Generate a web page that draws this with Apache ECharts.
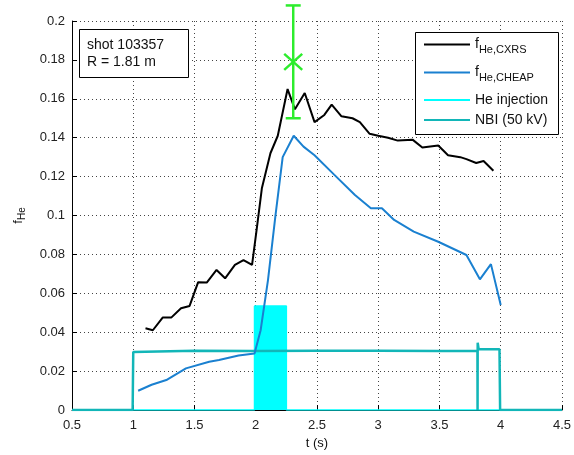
<!DOCTYPE html>
<html><head><meta charset="utf-8">
<script src="https://cdn.jsdelivr.net/npm/echarts@6/dist/echarts.min.js"></script>
<style>html,body{margin:0;padding:0;background:#fff}#c{width:574px;height:455px}</style>
</head><body><div id="c"></div>
<script>
const cxrsT = [1.10,1.16,1.24,1.31,1.39,1.46,1.53,1.60,1.68,1.75,1.83,1.90,1.97,2.01,2.05,2.12,2.18,2.26,2.32,2.40,2.48,2.56,2.62,2.70,2.79,2.85,2.93,3.00,3.08,3.16,3.28,3.36,3.49,3.57,3.67,3.72,3.80,3.86,3.94];
const cxrsV = [0.042,0.041,0.0475,0.0475,0.0523,0.0535,0.0657,0.0655,0.072,0.0677,0.0746,0.0771,0.0746,0.094,0.114,0.132,0.141,0.165,0.1546,0.163,0.148,0.1517,0.157,0.151,0.150,0.148,0.142,0.141,0.140,0.1385,0.139,0.135,0.136,0.131,0.130,0.129,0.127,0.128,0.123];
const cheapT = [1.04,1.15,1.27,1.43,1.62,1.70,1.86,1.99,2.04,2.10,2.16,2.22,2.31,2.39,2.48,2.64,2.81,2.94,3.03,3.13,3.29,3.49,3.72,3.83,3.92,4.00];
const cheapV = [0.0099,0.013,0.0154,0.0214,0.0248,0.0257,0.0280,0.029,0.041,0.0668,0.0994,0.130,0.141,0.1354,0.131,0.121,0.1105,0.1037,0.1037,0.0977,0.0917,0.0865,0.0797,0.0672,0.075,0.054];
const heT = [0.5,1.99,1.99,2.25,2.25,4.5];
const heV = [0,0,0.0535,0.0535,0,0];
const nbiT = [0.5,0.995,1.0,1.5,2.0,2.5,3.0,3.5,3.81,3.811,3.812,3.82,3.99,3.995,4.5];
const nbiV = [0,0,0.0298,0.0304,0.0303,0.0304,0.0304,0.0303,0.0303,0,0.0346,0.0312,0.0312,0,0];
const xrayPoint = [2.306, 0.179, 0.150, 0.208]; // t, value, low, high
const seriesNames = ['fHe,CXRS','fHe,CHEAP','He injection','NBI (50 kV)'];
const annotation = ['shot 103357','R = 1.81 m'];

const pair = (T,V)=>T.map((t,i)=>[t,V[i]]);
const FONT = 'Liberation Sans, Arial, Helvetica, sans-serif';
const chart = echarts.init(document.getElementById('c'));
const legendTops = [29, 57, 88, 108];
const rich = {f:{fontSize:14,fontFamily:FONT,color:'#111',lineHeight:16},
              s:{fontSize:11,fontFamily:FONT,color:'#111',padding:[10,0,0,0],lineHeight:16}};
chart.setOption({
  animation:false,
  grid:{left:72,right:8,top:21,bottom:45},
  xAxis:{type:'value',min:0.5,max:4.5,interval:0.5,
    name:'t (s)',nameLocation:'middle',nameGap:24,
    nameTextStyle:{fontFamily:FONT,fontSize:13,color:'#111'},
    axisLine:{lineStyle:{color:'#000',width:1}},
    axisTick:{inside:true,length:5,lineStyle:{color:'#000'}},
    axisLabel:{fontFamily:FONT,fontSize:13,color:'#222',margin:9},
    splitLine:{show:true,lineStyle:{color:'#444',type:[1,3],width:1}}},
  yAxis:{type:'value',min:0,max:0.2,interval:0.02,
    name:'{f|f}{s|He}',nameLocation:'middle',nameGap:45,nameRotate:90,
    nameTextStyle:{rich:{f:{fontSize:13,fontFamily:FONT,color:'#111'},s:{fontSize:10,fontFamily:FONT,color:'#111',padding:[8,0,0,0]}}},
    axisLine:{lineStyle:{color:'#000',width:1}},
    axisTick:{inside:true,length:5,lineStyle:{color:'#000'}},
    axisLabel:{fontFamily:FONT,fontSize:13,color:'#222',margin:7},
    splitLine:{show:true,lineStyle:{color:'#444',type:[1,3],width:1}}},
  legend: seriesNames.map((n,i)=>({
    data:[n], left:419, top:legendTops[i], icon:'rect', itemWidth:46, itemHeight:2, z:6,
    textStyle:{fontFamily:FONT,fontSize:14,color:'#111',rich:rich},
    formatter: (name)=> name.startsWith('fHe') ? '{f|f}{s|'+name.slice(1)+'}' : name
  })),
  graphic:[
    {type:'rect',shape:{x:415.5,y:32.5,width:143,height:102},style:{fill:'#fff',stroke:'#000',lineWidth:1},z:5},
    {type:'rect',shape:{x:79.5,y:29.5,width:109,height:48},style:{fill:'#fff',stroke:'#000',lineWidth:1},z:5},
    {type:'text',x:87,y:37,style:{text:annotation.join('\n'),font:'14px '+FONT,fill:'#111',lineHeight:17},z:6}
  ],
  series:[
    {name:seriesNames[2],type:'line',data:pair(heT,heV),showSymbol:false,symbol:'none',color:'#00ffff',
     lineStyle:{width:1.5,color:'#00ffff'},areaStyle:{color:'#00ffff',opacity:1},z:1},
    {name:seriesNames[3],type:'line',data:pair(nbiT,nbiV),showSymbol:false,symbol:'none',color:'#12b6b8',
     lineStyle:{width:2.5,color:'#12b6b8'},z:2},
    {name:seriesNames[1],type:'line',data:pair(cheapT,cheapV),showSymbol:false,symbol:'none',color:'#1a80d0',
     lineStyle:{width:2,color:'#1a80d0'},z:3},
    {name:seriesNames[0],type:'line',data:pair(cxrsT,cxrsV),showSymbol:false,symbol:'none',color:'#000',
     lineStyle:{width:2,color:'#000'},z:4},
    {type:'custom',clip:false,z:5,data:[xrayPoint],
     renderItem:(params,api)=>{
       const c=api.coord([api.value(0),api.value(1)]);
       const lo=api.coord([api.value(0),api.value(2)]);
       const hi=api.coord([api.value(0),api.value(3)]);
       const st={stroke:'#2ded2d',lineWidth:2.5};
       const cw=7.5, mx=9, my=8;
       return {type:'group',children:[
         {type:'line',shape:{x1:c[0],y1:lo[1],x2:c[0],y2:hi[1]},style:st},
         {type:'line',shape:{x1:c[0]-cw,y1:lo[1],x2:c[0]+cw,y2:lo[1]},style:st},
         {type:'line',shape:{x1:c[0]-cw,y1:hi[1],x2:c[0]+cw,y2:hi[1]},style:st},
         {type:'line',shape:{x1:c[0]-mx,y1:c[1]-my,x2:c[0]+mx,y2:c[1]+my},style:st},
         {type:'line',shape:{x1:c[0]-mx,y1:c[1]+my,x2:c[0]+mx,y2:c[1]-my},style:st}
       ]};
     }}
  ]
});
</script></body></html>
